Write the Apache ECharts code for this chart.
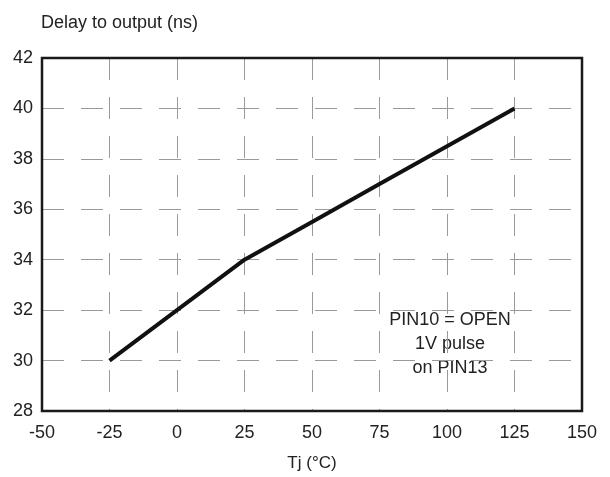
<!DOCTYPE html>
<html><head><meta charset="utf-8">
<script src="https://cdn.jsdelivr.net/npm/echarts@6/dist/echarts.min.js"></script>
<style>html,body{margin:0;padding:0;background:#fff}#c{width:610px;height:477px}</style>
</head><body><div id="c"></div>
<script>
var tempC = [-25, 0, 25, 50, 75, 100, 125];
var delayNs = [30, 32, 34, 35.5, 37, 38.5, 40];
var yAxisTitle = 'Delay to output (ns)';
var xAxisTitle = 'Tj (\u00B0C)';
var noteLines = ['PIN10 = OPEN', '1V pulse', 'on PIN13'];

var chart = echarts.init(document.getElementById('c'));
var font = 'Liberation Sans, Arial, sans-serif';
var gridStyle = {color: '#9a9a9a', width: 1, type: [22, 17], dashOffset: 0};
chart.setOption({
  animation: false,
  title: {text: yAxisTitle, left: 36, top: 9,
    textStyle: {color: '#222', fontSize: 18, fontWeight: 'normal', fontFamily: font}},
  grid: {left: 42, right: 28, top: 58, bottom: 64, show: true, borderColor: '#1a1a1a', borderWidth: 2.5, z: 5},
  xAxis: {
    type: 'value', min: -50, max: 150, interval: 25,
    name: xAxisTitle, nameLocation: 'middle', nameGap: 44,
    nameTextStyle: {color: '#222', fontSize: 17, fontFamily: font},
    axisLine: {show: false}, axisTick: {show: false},
    axisLabel: {color: '#222', fontSize: 18, fontFamily: font, margin: 13},
    splitLine: {show: true, showMinLine: false, showMaxLine: false, lineStyle: gridStyle}
  },
  yAxis: {
    type: 'value', min: 28, max: 42, interval: 2,
    axisLine: {show: false}, axisTick: {show: false},
    axisLabel: {color: '#222', fontSize: 18, fontFamily: font, margin: 9},
    splitLine: {show: true, showMinLine: false, showMaxLine: false, lineStyle: gridStyle}
  },
  series: [{
    type: 'line', data: tempC.map(function (t, i) { return [t, delayNs[i]]; }),
    symbol: 'none', smooth: false,
    lineStyle: {color: '#111', width: 4},
    z: 3
  }],
  graphic: [{
    type: 'group', z: 10,
    children: [
      {type: 'rect', shape: {x: 385, y: 305, width: 129, height: 77}, style: {fill: '#fff'}},
      {type: 'text', x: 450, y: 344,
        style: {text: noteLines.join('\n'), fill: '#222', fontSize: 18, fontFamily: font,
          textAlign: 'center', textVerticalAlign: 'middle', lineHeight: 24}}
    ]
  }]
});
</script></body></html>
